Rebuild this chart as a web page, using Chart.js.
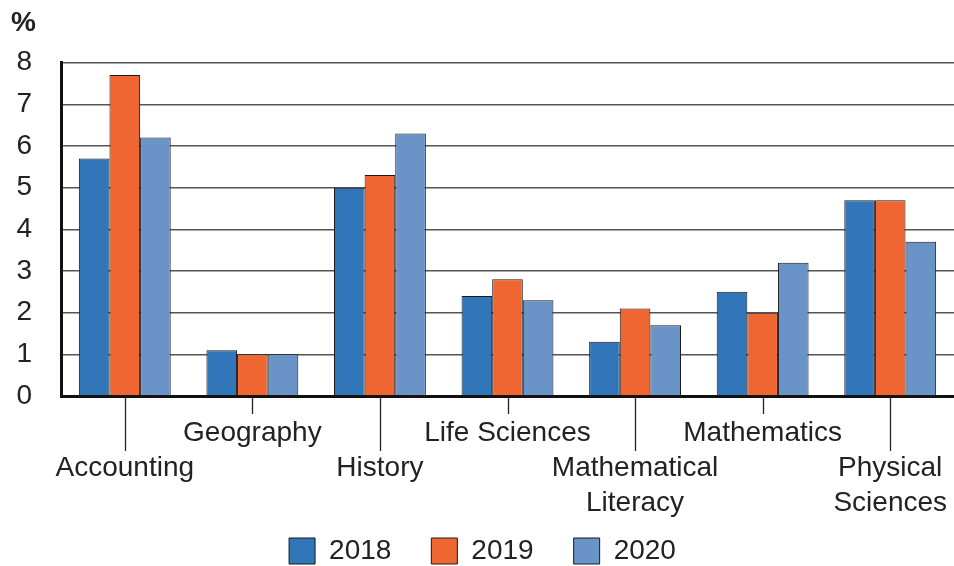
<!DOCTYPE html>
<html lang="en">
<head>
    <meta charset="UTF-8">
    <title>Subjects by year</title>
    <style>
        html, body {
            margin: 0;
            padding: 0;
            background: #fff;
        }
        .chart-box {
            width: 954px;
            height: 566px;
        }
    </style>
</head>
<body>
    <div class="chart-box">
        <canvas id="subjectChart"></canvas>
    </div>

    <script src="https://cdn.jsdelivr.net/npm/chart.js"></script>
    <script>
        // data
        const subjects = ['Accounting', 'Geography', 'History', 'Life Sciences', 'Mathematical Literacy', 'Mathematics', 'Physical Sciences'];
        const subjectLines = [['Accounting'], ['Geography'], ['History'], ['Life Sciences'], ['Mathematical', 'Literacy'], ['Mathematics'], ['Physical', 'Sciences']];
        const years = ['2018', '2019', '2020'];
        const values2018 = [5.7, 1.1, 5.0, 2.4, 1.3, 2.5, 4.7];
        const values2019 = [7.7, 1.0, 5.3, 2.8, 2.1, 2.0, 4.7];
        const values2020 = [6.2, 1.0, 6.3, 2.3, 1.7, 3.2, 3.7];
        const yTicks = [0, 1, 2, 3, 4, 5, 6, 7, 8];

        const colours = ['#3176b8', '#f06632', '#6a93c7'];
        const textColour = '#222';
        const fontFamily = '"Liberation Sans", Arial, sans-serif';

        // every other label sits one line lower (staggered like the original)
        const tickLabels = subjectLines.map((lines, i) => i % 2 === 0 ? [''].concat(lines) : lines);

        // tick marks under each category, long and short alternating
        const staggerTicks = {
            id: 'staggerTicks',
            afterLayout(chart) {
                // let the two-line labels run below the axis box (they get clipped otherwise)
                chart.scales.x.bottom = chart.height;
            },
            afterDraw(chart) {
                const ctx = chart.ctx;
                const xScale = chart.scales.x;
                const bottom = chart.chartArea.bottom;
                ctx.save();
                ctx.strokeStyle = '#222';
                ctx.lineWidth = 1.3;
                subjects.forEach((s, i) => {
                    const x = Math.round(xScale.getPixelForValue(i)) + 0.5;
                    ctx.beginPath();
                    ctx.moveTo(x, bottom + 2);
                    ctx.lineTo(x, bottom + (i % 2 === 0 ? 55 : 18));
                    ctx.stroke();
                });
                ctx.restore();
            }
        };

        const seriesValues = [values2018, values2019, values2020];

        new Chart(document.getElementById('subjectChart'), {
            type: 'bar',
            data: {
                labels: tickLabels,
                datasets: years.map((y, k) => ({
                    label: y,
                    data: seriesValues[k],
                    backgroundColor: colours[k],
                    borderColor: '#1a1a1a',
                    borderWidth: 1,
                    categoryPercentage: 0.72,
                    barPercentage: 1.0
                }))
            },
            options: {
                responsive: true,
                maintainAspectRatio: false,
                animation: false,
                layout: {
                    padding: { left: 11, right: 0, top: 4, bottom: -9 }
                },
                plugins: {
                    title: {
                        display: true,
                        text: '%',
                        align: 'start',
                        color: textColour,
                        font: { family: fontFamily, size: 28, weight: 'bold' },
                        padding: { top: 2, bottom: 23 }
                    },
                    legend: {
                        position: 'bottom',
                        labels: {
                            color: textColour,
                            font: { family: fontFamily, size: 28 },
                            boxWidth: 26,
                            boxHeight: 26,
                            padding: 40
                        }
                    },
                    tooltip: { enabled: false }
                },
                scales: {
                    x: {
                        grid: { display: false, drawTicks: false },
                        border: { display: true, color: '#111', width: 3 },
                        ticks: {
                            color: textColour,
                            font: { family: fontFamily, size: 28, lineHeight: 1.25 },
                            autoSkip: false,
                            maxRotation: 0,
                            minRotation: 0,
                            padding: 20
                        },
                        afterFit(scale) {
                            scale.height = 101;
                            scale.paddingLeft = 0;
                            scale.paddingRight = 0;
                        }
                    },
                    y: {
                        min: 0,
                        max: 8,
                        afterBuildTicks(scale) {
                            scale.ticks = yTicks.map(v => ({ value: v }));
                        },
                        grid: { color: '#555', lineWidth: 1.5, drawTicks: false },
                        border: { display: true, color: '#111', width: 3 },
                        ticks: {
                            color: textColour,
                            font: { family: fontFamily, size: 28 },
                            padding: 29
                        },
                        afterFit(scale) {
                            scale.width = 50;
                        }
                    }
                }
            },
            plugins: [staggerTicks]
        });
    </script>
</body>
</html>
